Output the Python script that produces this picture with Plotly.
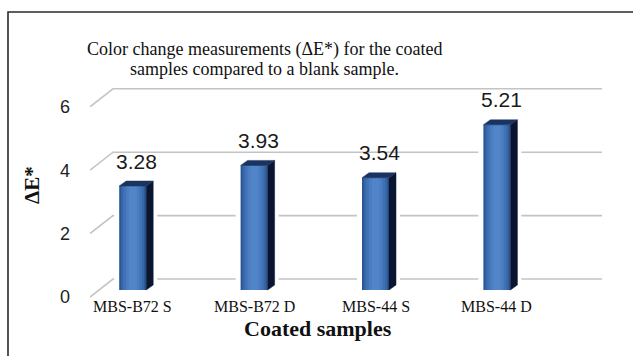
import plotly.graph_objects as go

# ---- data ----
categories = ["MBS-B72 S", "MBS-B72 D", "MBS-44 S", "MBS-44 D"]
delta_e = [3.28, 3.93, 3.54, 5.21]
y_ticks = [0, 2, 4, 6]
y_tick_labels = ["0", "2", "4", "6"]
title_text = "Color change measurements (ΔE*) for the coated<br>samples compared to a blank sample."
x_title = "Coated samples"
y_title = "ΔE*"

SERIF = "Liberation Serif, Times New Roman, serif"
SANS = "Liberation Sans, Arial, sans-serif"

# ---- geometry (pixels) ----
W, H = 633, 356
L, R, T, B = 90, 602, 80, 300
PX_X = 121.4      # px per category step
PX_Y = 31.7       # px per value unit
X0_PX = 132.7     # pixel x of first category
Y0_PX = 290.0     # pixel y of value 0 (front face)

xa = -(X0_PX - L) / PX_X
xb = (R - X0_PX) / PX_X
ya = (Y0_PX - B) / PX_Y
yb = (Y0_PX - T) / PX_Y

bar_w = 27 / PX_X
dxd = 7 / PX_X
dyd = 5 / PX_Y
wall_dx = 23 / PX_X
back_dy = 11 / PX_Y
front_dy = -7 / PX_Y

def px2paper_x(px):
    return (px - L) / (R - L)

def px2paper_y(py):
    return (B - py) / (B - T)

xs = list(range(len(categories)))
fig = go.Figure()

# gridlines (side wall diagonal + back wall) as shapes below traces
shapes = []
for t in y_ticks:
    shapes.append(dict(
        type="path", xref="x", yref="y", layer="below",
        path=f"M {xa},{t + front_dy} L {xa + wall_dx},{t + back_dy} L {xb},{t + back_dy}",
        line=dict(color="#c4c4c4", width=1.6)))
shapes.append(dict(type="rect", xref="paper", yref="paper",
                   x0=px2paper_x(8), x1=px2paper_x(700),
                   y0=px2paper_y(12), y1=px2paper_y(400),
                   line=dict(color="#2a2a2a", width=1.6), layer="above"))

# white halos behind bars (bar traces so they sit under the front faces)
halo_left = bar_w / 2 + 5 / PX_X
halo_w = bar_w + dxd + 9 / PX_X
fig.add_trace(go.Bar(
    x=xs, y=[v + dyd + 0.1 - ya for v in delta_e], base=ya,
    width=halo_w, offset=-halo_left,
    marker=dict(color="white", line=dict(width=0)),
    hoverinfo="skip", showlegend=False))

# front faces: layered bars to imitate gradient
layers = [(1.0, "#2b5593"), (0.86, "#3667a8"), (0.7, "#4172b6"), (0.5, "#4a7dc1"), (0.28, "#5285c8")]
for frac, col in layers:
    fig.add_trace(go.Bar(
        x=xs, y=delta_e, width=bar_w * frac,
        marker=dict(color=col, line=dict(width=0)),
        hoverinfo="skip", showlegend=False))

# side and top faces
for x, v in zip(xs, delta_e):
    xr = x + bar_w / 2
    xl = x - bar_w / 2
    fig.add_trace(go.Scatter(
        x=[xr, xr + dxd, xr + dxd, xr, xr], y=[0, dyd, v + dyd, v, 0],
        fill="toself", fillcolor="#0a1631", mode="lines",
        line=dict(color="#0a1631", width=0.5),
        hoverinfo="skip", showlegend=False))
    fig.add_trace(go.Scatter(
        x=[xl, xl + dxd, xr + dxd, xr, xl], y=[v, v + dyd, v + dyd, v, v],
        fill="toself", fillcolor="#1b3360", mode="lines",
        line=dict(color="#1b3360", width=0.5),
        hoverinfo="skip", showlegend=False))

annotations = []
# data labels
for x, v in zip(xs, delta_e):
    annotations.append(dict(
        x=x + 0.035, y=v, xref="x", yref="y", text=f"{v:.2f}",
        showarrow=False, yanchor="middle", yshift=25,
        font=dict(family=SANS, size=21, color="#1a1a1a")))
# category labels
for x, c in zip(xs, categories):
    annotations.append(dict(
        x=x, y=px2paper_y(306.5), xref="x", yref="paper", text=c,
        showarrow=False, yanchor="middle", xanchor="center",
        font=dict(family=SERIF, size=16, color="#111111")))
# title (two lines, tighter spacing than the default line height)
for line, py in zip(title_text.split("<br>"), [49, 69]):
    annotations.append(dict(
        x=px2paper_x(264), y=px2paper_y(py), xref="paper", yref="paper",
        text=line, showarrow=False, xanchor="center", yanchor="middle",
        font=dict(family=SERIF, size=18, color="#111111")))
annotations.append(dict(
    x=px2paper_x(318), y=px2paper_y(328), xref="paper", yref="paper",
    text=f"<b>{x_title}</b>", showarrow=False, xanchor="center", yanchor="middle",
    font=dict(family=SERIF, size=22, color="#111111")))
annotations.append(dict(
    x=px2paper_x(32), y=px2paper_y(185), xref="paper", yref="paper",
    text=f"<b>{y_title}</b>", showarrow=False, textangle=-90,
    xanchor="center", yanchor="middle",
    font=dict(family=SERIF, size=21, color="#111111")))

fig.update_layout(
    width=W, height=H,
    margin=dict(l=L, r=W - R, t=T, b=H - B),
    paper_bgcolor="white", plot_bgcolor="white",
    barmode="overlay", showlegend=False,
    annotations=annotations,
    shapes=shapes,
    xaxis=dict(range=[xa, xb], showgrid=False, zeroline=False, showline=False,
               showticklabels=False, fixedrange=True),
    yaxis=dict(range=[ya, yb], showgrid=False, zeroline=False, showline=False,
               tickvals=[t + front_dy for t in y_ticks], ticktext=y_tick_labels,
               ticks="", ticklabelstandoff=19,
               tickfont=dict(family=SANS, size=18, color="#222222")),
)

fig.write_html("out.html")
